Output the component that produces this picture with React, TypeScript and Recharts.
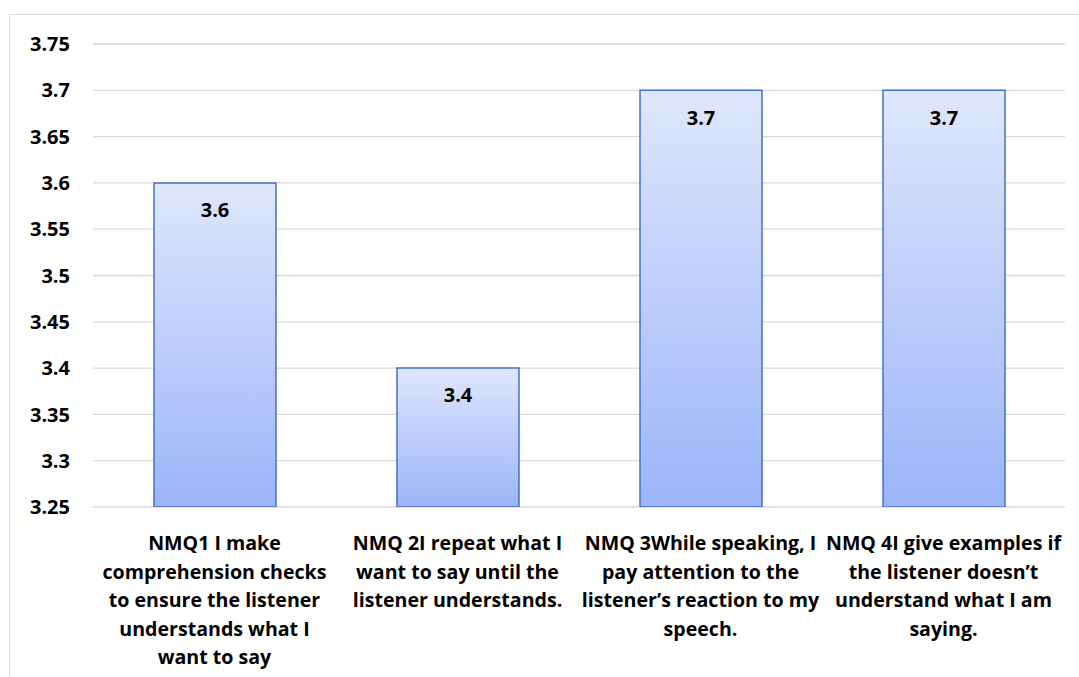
import React from 'react';
import { BarChart, Bar, XAxis, YAxis, CartesianGrid, LabelList } from 'recharts';

// category labels, split the way they wrap in the original
const categoryLines: string[][] = [
  ['NMQ1 I make', 'comprehension checks', 'to ensure the listener', 'understands what I', 'want to say'],
  ['NMQ 2I repeat what I', 'want to say until the', 'listener understands.'],
  ['NMQ 3While speaking, I', 'pay attention to the', 'listener\u2019s reaction to my', 'speech.'],
  ['NMQ 4I give examples if', 'the listener doesn\u2019t', 'understand what I am', 'saying.'],
];
const categories = categoryLines.map((l) => l.join(' '));
const values = [3.6, 3.4, 3.7, 3.7];
const yTicks = [3.25, 3.3, 3.35, 3.4, 3.45, 3.5, 3.55, 3.6, 3.65, 3.7, 3.75];

const data = categories.map((name, i) => ({ name, value: values[i] }));

const FONT = '"Open Sans", Lato, sans-serif';

const CategoryTick = (props: any) => {
  const { x, y, payload } = props;
  const lines = categoryLines[payload.index] || [payload.value];
  return (
    <text x={x} y={y} textAnchor="middle" fontFamily={FONT} fontWeight={700} fontSize={19.6} fill="#000">
      {lines.map((ln, i) => (
        <tspan key={i} x={x} y={y + 30 + i * 28.5} dominantBaseline="middle">
          {ln}
        </tspan>
      ))}
    </text>
  );
};

const ValueLabel = (props: any) => {
  const { x, y, width, value } = props;
  return (
    <text
      x={x + width / 2}
      y={y + 29}
      textAnchor="middle"
      dominantBaseline="middle"
      fontFamily={FONT}
      fontWeight={700}
      fontSize={20}
      fill="#000"
    >
      {value}
    </text>
  );
};

export default function App() {
  return (
    <div style={{ position: 'absolute', left: 0, top: 0, width: 1079, height: 677, background: '#fff', overflow: 'hidden' }}>
      <div
        style={{
          position: 'absolute',
          left: 9,
          top: 14,
          width: 1100,
          height: 700,
          border: '1px solid #d9d9d9',
          boxSizing: 'border-box',
        }}
      />
      <div style={{ position: 'absolute', left: 0, top: 0 }}>
        <BarChart width={1079} height={677} data={data} margin={{ top: 44, right: 14, bottom: 10, left: 0 }}>
          <defs>
            <linearGradient id="barFill" x1="0" y1="0" x2="0" y2="1">
              <stop offset="0%" stopColor="#dfe7fd" />
              <stop offset="100%" stopColor="#9cb4fa" />
            </linearGradient>
          </defs>
          <CartesianGrid vertical={false} stroke="#d9d9d9" strokeWidth={1.3} />
          <XAxis
            dataKey="name"
            axisLine={false}
            tickLine={false}
            height={160}
            interval={0}
            tick={<CategoryTick />}
          />
          <YAxis
            domain={[3.25, 3.75]}
            ticks={yTicks}
            allowDataOverflow
            axisLine={false}
            tickLine={false}
            tickSize={0}
            tickMargin={23}
            width={93}
            tick={{ fontFamily: FONT, fontWeight: 700, fontSize: 20, fill: '#000' }}
            tickFormatter={(v: number) => String(Number(v.toFixed(2)))}
          />
          <Bar
            dataKey="value"
            fill="url(#barFill)"
            stroke="#4472c4"
            strokeWidth={1.5}
            barSize={122}
            isAnimationActive={false}
          >
            <LabelList dataKey="value" content={<ValueLabel />} />
          </Bar>
        </BarChart>
      </div>
    </div>
  );
}
